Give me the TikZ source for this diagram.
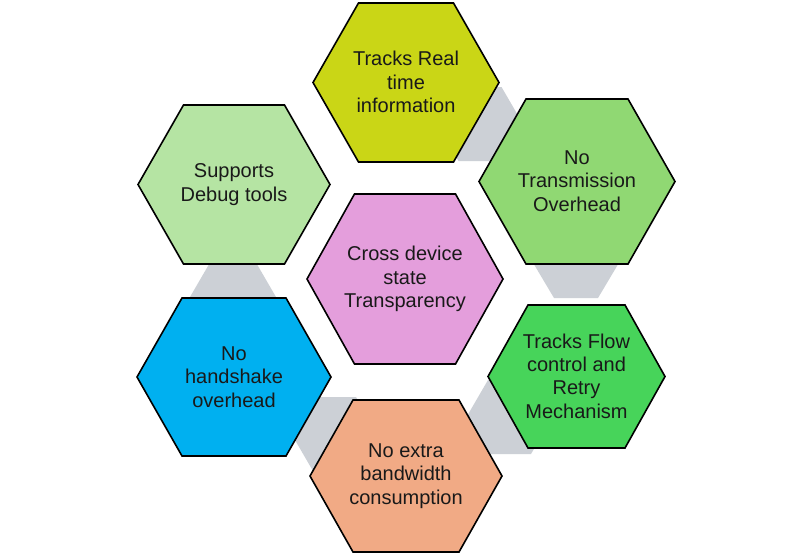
\documentclass[tikz,border=0pt]{standalone}
\usepackage{fontspec}
\setmainfont{Liberation Sans}
\definecolor{cYel}{RGB}{202,214,22}
\definecolor{cGrA}{RGB}{144,216,115}
\definecolor{cGrL}{RGB}{181,228,163}
\definecolor{cPink}{RGB}{228,158,220}
\definecolor{cBlue}{RGB}{0,176,240}
\definecolor{cGrB}{RGB}{71,212,90}
\definecolor{cOrg}{RGB}{241,170,133}
\definecolor{cGray}{RGB}{204,208,214}
\tikzset{
  hexbox/.style={draw=black, line width=1.6pt, line join=miter},
  linkhex/.style={fill=cGray, draw=none},
  txt/.style={align=center, inner sep=0pt, text=black!90, font=\fontsize{20}{23.3}\selectfont}
}
% hexagon path: cx, cy, R (half width), a (half top edge), hh (half height)
\newcommand{\hexpath}[5]{({#1-#3},#2) -- ({#1-#4},{#2-#5}) -- ({#1+#4},{#2-#5}) -- ({#1+#3},#2) -- ({#1+#4},{#2+#5}) -- ({#1-#4},{#2+#5}) -- cycle}
\begin{document}
\begin{tikzpicture}[x=1pt,y=-1pt]
\path[use as bounding box, fill=white] (0,0) rectangle (811,555);
% gray connector hexagons (behind)
\fill[linkhex] \hexpath{480}{124}{43}{21.5}{37};
\fill[linkhex] \hexpath{576}{261}{44}{22}{37};
\fill[linkhex] \hexpath{509.5}{417}{43}{21.5}{37};
\fill[linkhex] \hexpath{334.5}{434}{43}{21.5}{37};
\fill[linkhex] \hexpath{233}{297}{43}{21.5}{37};
% hexagons
\filldraw[hexbox, fill=cYel]  \hexpath{406}{82.5}{93}{47.5}{79.5};
\filldraw[hexbox, fill=cGrA]  \hexpath{577}{181.5}{98}{51}{82.5};
\filldraw[hexbox, fill=cGrL]  \hexpath{234}{184.5}{96}{50.5}{79.5};
\filldraw[hexbox, fill=cPink] \hexpath{405}{279}{98}{50.5}{85};
\filldraw[hexbox, fill=cBlue] \hexpath{234}{377}{97}{52}{79};
\filldraw[hexbox, fill=cGrB]  \hexpath{576.5}{376.5}{88.5}{48.5}{71.5};
\filldraw[hexbox, fill=cOrg]  \hexpath{406}{476}{96}{53}{76};
% texts
\node[txt] (yel) at (406,82) {Tracks Real\\time\\information};
\node[txt] (trn) at (577,181) {No\\Transmission\\Overhead};
\node[txt] (dbg) at (234,184.5) {Supports\\Debug tools};
\node[txt] (cds) at (405,279) {Cross device\\state\\Transparency};
\node[txt] (hsk) at (234,377) {No\\handshake\\overhead};
\node[txt] (flw) at (576.5,376) {Tracks Flow\\control and\\Retry\\Mechanism};
\node[txt] (bwd) at (406,476) {No extra\\bandwidth\\consumption};
\end{tikzpicture}
\end{document}
